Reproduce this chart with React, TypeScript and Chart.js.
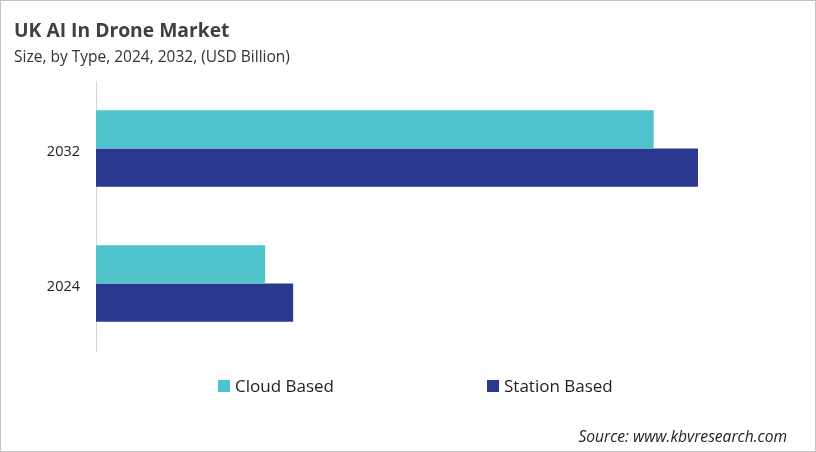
import React, { useEffect, useRef } from "react";
import { Chart, registerables } from "chart.js";

Chart.register(...registerables);

const categories = ["2032", "2024"];
const seriesNames = ["Cloud Based", "Station Based"];
const cloudBased = [2.39, 0.725];
const stationBased = [2.58, 0.845];
const colors = ["#4fc3cc", "#2b388f"];
const xMax = 3.0;

const FONT = "'Open Sans', 'Noto Sans', sans-serif";

export default function App() {
  const ref = useRef<HTMLCanvasElement | null>(null);

  useEffect(() => {
    if (!ref.current) return;
    const chart = new Chart(ref.current, {
      type: "bar",
      data: {
        labels: categories,
        datasets: [
          {
            label: seriesNames[0],
            data: cloudBased,
            backgroundColor: colors[0],
            barPercentage: 1,
            categoryPercentage: 0.565,
          },
          {
            label: seriesNames[1],
            data: stationBased,
            backgroundColor: colors[1],
            barPercentage: 1,
            categoryPercentage: 0.565,
          },
        ],
      },
      options: {
        indexAxis: "y",
        animation: false,
        responsive: false,
        maintainAspectRatio: false,
        layout: { padding: { left: 0, top: 81, bottom: 101, right: 20 } },
        plugins: {
          legend: { display: false },
          tooltip: { enabled: false },
          title: { display: false },
        },
        scales: {
          x: { display: false, min: 0, max: xMax },
          y: {
            grid: { display: false },
            border: { display: true, color: "#d4d4d4", width: 1 },
            ticks: {
              color: "#222",
              font: { family: FONT, size: 14.5 },
              padding: 8,
              labelOffset: 3,
            },
            afterFit: (scale: any) => {
              scale.width = 96;
            },
          },
        },
      },
    });
    return () => chart.destroy();
  }, []);

  return (
    <div
      style={{
        position: "absolute",
        left: 0,
        top: 0,
        width: 816,
        height: 452,
        boxSizing: "border-box",
        border: "1px solid #c4c4c4",
        background: "#fff",
        overflow: "hidden",
        fontFamily: FONT,
      }}
    >
      <canvas
        ref={ref}
        width={816}
        height={452}
        style={{ position: "absolute", left: -1, top: -1, width: 816, height: 452 }}
      />
      <div
        style={{
          position: "absolute",
          left: 13,
          top: 15,
          fontSize: 19.3,
          fontWeight: 700,
          color: "#404040",
          whiteSpace: "nowrap",
        }}
      >
        UK AI In Drone Market
      </div>
      <div
        style={{
          position: "absolute",
          left: 13,
          top: 44,
          fontSize: 15.5,
          color: "#333",
          whiteSpace: "nowrap",
        }}
      >
        Size, by Type, 2024, 2032, (USD Billion)
      </div>
      {seriesNames.map((name, i) => (
        <div
          key={name}
          style={{
            position: "absolute",
            left: i === 0 ? 217 : 486,
            top: 373,
            display: "flex",
            alignItems: "center",
            fontSize: 17,
            color: "#222",
            whiteSpace: "nowrap",
          }}
        >
          <span
            style={{
              display: "inline-block",
              width: 12,
              height: 12,
              background: colors[i],
              marginRight: 5,
            }}
          />
          {name}
        </div>
      ))}
      <div
        style={{
          position: "absolute",
          right: 28,
          top: 424,
          fontSize: 15.6,
          fontStyle: "italic",
          color: "#222",
          whiteSpace: "nowrap",
        }}
      >
        Source: www.kbvresearch.com
      </div>
    </div>
  );
}
